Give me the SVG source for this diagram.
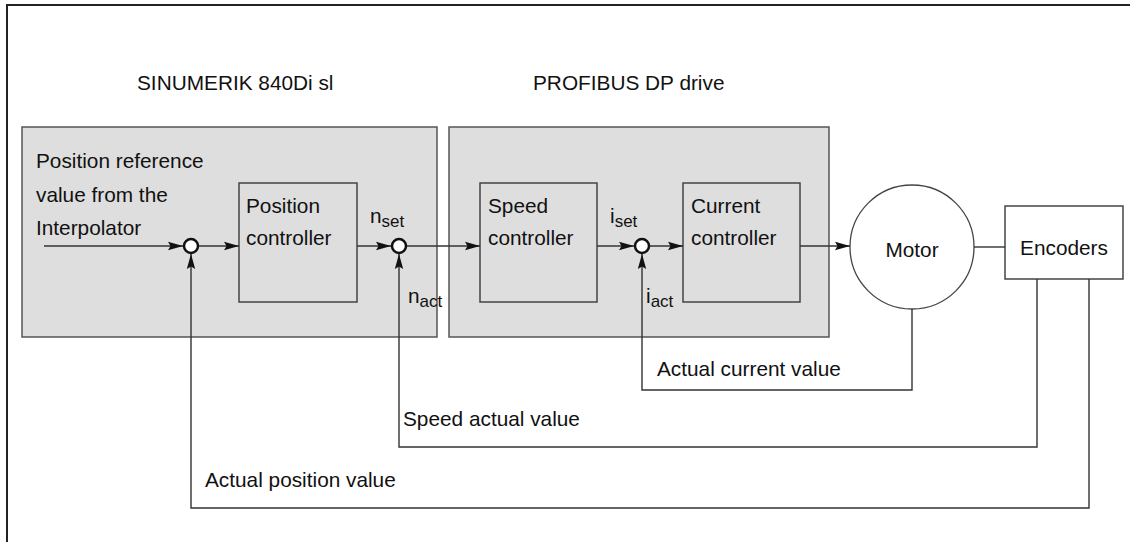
<svg xmlns="http://www.w3.org/2000/svg" width="1130" height="542" viewBox="0 0 1130 542">
<defs>
<style>
text{font-family:"Liberation Sans",Arial,sans-serif;font-size:20.8px;fill:#111}
.sub{font-size:17px}
.area{fill:#dedede;stroke:#555;stroke-width:1.5}
.blk{fill:none;stroke:#444;stroke-width:1.5}
.wbox{fill:#fff;stroke:#444;stroke-width:1.5}
.sum{fill:#fff;stroke:#111;stroke-width:2.5}
.ln{fill:none;stroke:#333;stroke-width:1.4}
.fr{fill:none;stroke:#222;stroke-width:2}
</style>
<marker id="ar" viewBox="0 0 15 10" refX="15" refY="5" markerWidth="15" markerHeight="10" markerUnits="userSpaceOnUse" orient="auto">
<path d="M0,0.8 L15,5 L0,9.2 L2.5,5 Z" fill="#111"/>
</marker>
</defs>
<path class="fr" d="M1130,5 H7 V542"/>
<text x="137" y="90">SINUMERIK 840Di sl</text>
<text x="533" y="90">PROFIBUS DP drive</text>
<g id="sinumerik">
<rect class="area" x="22" y="127" width="415" height="210"/>
<text x="36" y="168">Position reference</text>
<text x="36" y="202">value from the</text>
<text x="36" y="235">Interpolator</text>
</g>
<g id="profibus">
<rect class="area" x="449" y="127" width="380" height="210"/>
</g>
<g id="position-controller">
<rect class="blk" x="239" y="183" width="118" height="119"/>
<text x="246" y="213">Position</text>
<text x="246" y="245">controller</text>
</g>
<g id="speed-controller">
<rect class="blk" x="480" y="183" width="117" height="119"/>
<text x="488" y="213">Speed</text>
<text x="488" y="245">controller</text>
</g>
<g id="current-controller">
<rect class="blk" x="683" y="183" width="117" height="119"/>
<text x="691" y="213">Current</text>
<text x="691" y="245">controller</text>
</g>
<g id="motor">
<circle cx="912" cy="247" r="62" fill="#fff" stroke="#444" stroke-width="1.3"/>
<text x="912" y="257" text-anchor="middle">Motor</text>
</g>
<g id="encoders">
<rect class="wbox" x="1005" y="206" width="118" height="73"/>
<text x="1064" y="255" text-anchor="middle">Encoders</text>
</g>
<g id="connectors">
<path class="ln" d="M44,246 H183" marker-end="url(#ar)"/>
<path class="ln" d="M198,246 H239" marker-end="url(#ar)"/>
<path class="ln" d="M357,246 H391" marker-end="url(#ar)"/>
<path class="ln" d="M406,246 H480" marker-end="url(#ar)"/>
<path class="ln" d="M597,246 H634" marker-end="url(#ar)"/>
<path class="ln" d="M649,246 H683" marker-end="url(#ar)"/>
<path class="ln" d="M800,246 H850" marker-end="url(#ar)"/>
<path class="ln" d="M974,247 H1005"/>
<path class="ln" d="M912,309 V390 H642 V254" marker-end="url(#ar)"/>
<path class="ln" d="M1037,279 V447 H399 V254" marker-end="url(#ar)"/>
<path class="ln" d="M1089,279 V508 H191 V254" marker-end="url(#ar)"/>
</g>
<g id="junctions">
<circle class="sum" cx="191" cy="246" r="7"/>
<circle class="sum" cx="399" cy="246" r="7"/>
<circle class="sum" cx="642" cy="246" r="7"/>
</g>
<text x="370" y="223">n<tspan class="sub" dy="4">set</tspan></text>
<text x="408" y="303">n<tspan class="sub" dy="4">act</tspan></text>
<text x="610" y="223">i<tspan class="sub" dy="4">set</tspan></text>
<text x="646" y="303">i<tspan class="sub" dy="4">act</tspan></text>
<text x="657" y="376">Actual current value</text>
<text x="403" y="426">Speed actual value</text>
<text x="205" y="487">Actual position value</text>
</svg>
